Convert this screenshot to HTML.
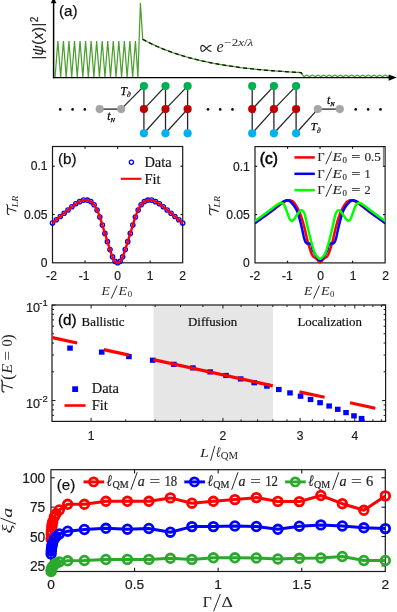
<!DOCTYPE html>
<html><head><meta charset="utf-8"><title>Figure</title>
<style>html,body{margin:0;padding:0;background:#fff;}body{width:397px;height:612px;overflow:hidden;font-family:"Liberation Sans",sans-serif;}svg text{white-space:pre;}</style>
</head><body>
<svg width="397" height="612" viewBox="0 0 397 612" style="display:block;will-change:transform">
<polyline points="55.10,77.00 57.87,41.00 60.64,77.00 63.41,41.00 66.18,77.00 68.95,41.00 71.72,77.00 74.49,41.00 77.26,77.00 80.03,41.00 82.80,77.00 85.57,41.00 88.34,77.00 91.11,41.00 93.88,77.00 96.65,41.00 99.42,77.00 102.19,41.00 104.96,77.00 107.73,41.00 110.50,77.00 113.27,41.00 116.04,77.00 118.81,41.00 121.58,77.00 124.35,41.00 127.12,77.00 129.89,41.00 132.66,77.00 135.43,41.00 137.90,77.00 140.40,3.00 142.70,39.30 144.70,40.38 146.70,41.43 148.70,42.45 150.70,43.44 152.70,44.40 154.70,45.33 156.70,46.24 158.70,47.12 160.70,47.97 162.70,48.80 164.70,49.60 166.70,50.38 168.70,51.13 170.70,51.87 172.70,52.58 174.70,53.27 176.70,53.94 178.70,54.59 180.70,55.22 182.70,55.83 184.70,56.43 186.70,57.01 188.70,57.57 190.70,58.11 192.70,58.64 194.70,59.15 196.70,59.65 198.70,60.13 200.70,60.60 202.70,61.05 204.70,61.49 206.70,61.92 208.70,62.34 210.70,62.74 212.70,63.13 214.70,63.51 216.70,63.88 218.70,64.24 220.70,64.58 222.70,64.92 224.70,65.25 226.70,65.56 228.70,65.87 230.70,66.17 232.70,66.46 234.70,66.74 236.70,67.01 238.70,67.28 240.70,67.54 242.70,67.79 244.70,68.03 246.70,68.26 248.70,68.49 250.70,68.71 252.70,68.93 254.70,69.14 256.70,69.34 258.70,69.54 260.70,69.73 262.70,69.91 264.70,70.09 266.70,70.27 268.70,70.43 270.70,70.60 272.70,70.76 274.70,70.91 276.70,71.06 278.70,71.21 280.70,71.35 282.70,71.49 284.70,71.62 286.70,71.75 288.70,71.87 290.70,72.00 292.70,72.11 294.70,72.23 296.70,72.34 298.70,72.45 300.70,72.55 301.00,72.57 304.00,76.60 304.70,76.27 305.40,75.66 306.10,75.24 306.80,75.10 307.50,75.24 308.20,75.66 308.90,76.27 309.60,77.00 310.30,76.27 311.00,75.66 311.70,75.24 312.40,75.10 313.10,75.24 313.80,75.66 314.50,76.27 315.20,77.00 315.90,76.27 316.60,75.66 317.30,75.24 318.00,75.10 318.70,75.24 319.40,75.66 320.10,76.27 320.80,77.00 321.50,76.27 322.20,75.66 322.90,75.24 323.60,75.10 324.30,75.24 325.00,75.66 325.70,76.27 326.40,77.00 327.10,76.27 327.80,75.66 328.50,75.24 329.20,75.10 329.90,75.24 330.60,75.66 331.30,76.27 332.00,77.00 332.70,76.27 333.40,75.66 334.10,75.24 334.80,75.10 335.50,75.24 336.20,75.66 336.90,76.27 337.60,77.00 338.30,76.27 339.00,75.66 339.70,75.24 340.40,75.10 341.10,75.24 341.80,75.66 342.50,76.27 343.20,77.00 343.90,76.27 344.60,75.66 345.30,75.24 346.00,75.10 346.70,75.24 347.40,75.66 348.10,76.27 348.80,77.00 349.50,76.27 350.20,75.66 350.90,75.24 351.60,75.10 352.30,75.24 353.00,75.66 353.70,76.27 354.40,77.00 355.10,76.27 355.80,75.66 356.50,75.24 357.20,75.10 357.90,75.24 358.60,75.66 359.30,76.27 360.00,77.00 360.70,76.27 361.40,75.66 362.10,75.24 362.80,75.10 363.50,75.24 364.20,75.66 364.90,76.27 365.60,77.00 366.30,76.27 367.00,75.66 367.70,75.24 368.40,75.10 369.10,75.24 369.80,75.66 370.50,76.27 371.20,77.00 371.90,76.27 372.60,75.66 373.30,75.24 374.00,75.10 374.70,75.24 375.40,75.66 376.10,76.27 376.80,77.00 377.50,76.27 378.20,75.66 378.90,75.24 379.60,75.10 380.30,75.24 381.00,75.66 381.70,76.27 382.40,77.00 383.10,76.27 383.80,75.66 384.50,75.24 385.20,75.10 385.90,75.24 386.60,75.66 387.30,76.27 388.00,77.00 388.70,76.27" fill="none" stroke="#4aa02c" stroke-width="1.25" stroke-linejoin="miter" stroke-linecap="butt"/>
<polyline points="142.70,39.30 144.70,40.38 146.70,41.43 148.70,42.45 150.70,43.44 152.70,44.40 154.70,45.33 156.70,46.24 158.70,47.12 160.70,47.97 162.70,48.80 164.70,49.60 166.70,50.38 168.70,51.13 170.70,51.87 172.70,52.58 174.70,53.27 176.70,53.94 178.70,54.59 180.70,55.22 182.70,55.83 184.70,56.43 186.70,57.01 188.70,57.57 190.70,58.11 192.70,58.64 194.70,59.15 196.70,59.65 198.70,60.13 200.70,60.60 202.70,61.05 204.70,61.49 206.70,61.92 208.70,62.34 210.70,62.74 212.70,63.13 214.70,63.51 216.70,63.88 218.70,64.24 220.70,64.58 222.70,64.92 224.70,65.25 226.70,65.56 228.70,65.87 230.70,66.17 232.70,66.46 234.70,66.74 236.70,67.01 238.70,67.28 240.70,67.54 242.70,67.79 244.70,68.03 246.70,68.26 248.70,68.49 250.70,68.71 252.70,68.93 254.70,69.14 256.70,69.34 258.70,69.54 260.70,69.73 262.70,69.91 264.70,70.09 266.70,70.27 268.70,70.43 270.70,70.60 272.70,70.76 274.70,70.91 276.70,71.06 278.70,71.21 280.70,71.35 282.70,71.49 284.70,71.62 286.70,71.75 288.70,71.87 290.70,72.00 292.70,72.11 294.70,72.23 296.70,72.34 298.70,72.45 300.70,72.55 301.00,72.57 303.50,75.60" fill="none" stroke="#111" stroke-width="1.3" stroke-linejoin="round" stroke-linecap="butt" stroke-dasharray="4 3"/>
<line x1="53.60" y1="78.30" x2="53.60" y2="3.00" stroke="#000" stroke-width="1.5" stroke-linecap="butt"/>
<polygon points="53.6,-3 50.8,3.3 56.4,3.3" fill="#000"/>
<line x1="52.90" y1="77.60" x2="390.00" y2="77.60" stroke="#000" stroke-width="1.45" stroke-linecap="butt"/>
<polygon points="396.8,77.6 388.6,74.5 388.6,80.7" fill="#000"/>
<text x="59.00" y="16.00" font-family="Liberation Sans" font-size="15.2" text-anchor="start" font-style="normal" font-weight="normal" fill="#111" stroke="#111" stroke-width="0.25">(a)</text>
<g transform="translate(42.7,59.6) rotate(-90)"><text x="0" y="0" font-family="Liberation Sans" font-size="14" fill="#1a1a1a" stroke="#1a1a1a" stroke-width="0.2" textLength="42.8" lengthAdjust="spacing">|<tspan font-style="italic">ψ</tspan>(<tspan font-style="italic">x</tspan>)|<tspan font-size="10" dy="-5">2</tspan></text></g>
<path transform="translate(200.00,51.70) scale(15.2)" d="M0.72,-0.42 C0.60,-0.42 0.52,-0.33 0.42,-0.22 C0.32,-0.10 0.26,-0.02 0.17,-0.02 C0.09,-0.02 0.05,-0.11 0.05,-0.22 C0.05,-0.33 0.09,-0.42 0.17,-0.42 C0.26,-0.42 0.32,-0.33 0.42,-0.22 C0.52,-0.10 0.60,-0.02 0.72,-0.02" fill="none" stroke="#262626" stroke-width="0.075" stroke-linecap="round" stroke-linejoin="round"/>
<text x="216.60" y="51.60" font-family="Liberation Serif" font-size="16" text-anchor="start" font-style="italic" font-weight="normal" fill="#262626">e</text>
<text x="224.3" y="46.4" font-family="Liberation Serif" font-size="10.6" fill="#262626" textLength="29" lengthAdjust="spacingAndGlyphs">−2<tspan font-style="italic">x</tspan>/<tspan font-style="italic">λ</tspan></text>
<line x1="143.90" y1="86.10" x2="143.90" y2="133.30" stroke="#262626" stroke-width="1.3" stroke-linecap="butt"/>
<line x1="143.90" y1="109.10" x2="165.50" y2="86.10" stroke="#262626" stroke-width="1.3" stroke-linecap="butt"/>
<line x1="143.90" y1="133.30" x2="165.50" y2="109.10" stroke="#262626" stroke-width="1.3" stroke-linecap="butt"/>
<line x1="165.50" y1="86.10" x2="165.50" y2="133.30" stroke="#262626" stroke-width="1.3" stroke-linecap="butt"/>
<line x1="165.50" y1="109.10" x2="187.60" y2="86.10" stroke="#262626" stroke-width="1.3" stroke-linecap="butt"/>
<line x1="165.50" y1="133.30" x2="187.60" y2="109.10" stroke="#262626" stroke-width="1.3" stroke-linecap="butt"/>
<line x1="187.60" y1="86.10" x2="187.60" y2="133.30" stroke="#262626" stroke-width="1.3" stroke-linecap="butt"/>
<line x1="99.70" y1="109.10" x2="121.20" y2="109.10" stroke="#262626" stroke-width="1.3" stroke-linecap="butt"/>
<line x1="121.20" y1="109.10" x2="143.90" y2="86.10" stroke="#262626" stroke-width="1.3" stroke-linecap="butt"/>
<circle cx="143.90" cy="86.10" r="4.1" fill="#00b050" stroke="none" stroke-width="1"/>
<circle cx="143.90" cy="109.10" r="4.1" fill="#c00000" stroke="none" stroke-width="1"/>
<circle cx="143.90" cy="133.30" r="4.1" fill="#00b0f0" stroke="none" stroke-width="1"/>
<circle cx="165.50" cy="86.10" r="4.1" fill="#00b050" stroke="none" stroke-width="1"/>
<circle cx="165.50" cy="109.10" r="4.1" fill="#c00000" stroke="none" stroke-width="1"/>
<circle cx="165.50" cy="133.30" r="4.1" fill="#00b0f0" stroke="none" stroke-width="1"/>
<circle cx="187.60" cy="86.10" r="4.1" fill="#00b050" stroke="none" stroke-width="1"/>
<circle cx="187.60" cy="109.10" r="4.1" fill="#c00000" stroke="none" stroke-width="1"/>
<circle cx="187.60" cy="133.30" r="4.1" fill="#00b0f0" stroke="none" stroke-width="1"/>
<circle cx="99.70" cy="109.10" r="4.1" fill="#a6a6a6" stroke="none" stroke-width="1"/>
<circle cx="121.20" cy="109.10" r="4.1" fill="#a6a6a6" stroke="none" stroke-width="1"/>
<line x1="252.20" y1="86.10" x2="252.20" y2="133.30" stroke="#262626" stroke-width="1.3" stroke-linecap="butt"/>
<line x1="252.20" y1="109.10" x2="273.90" y2="86.10" stroke="#262626" stroke-width="1.3" stroke-linecap="butt"/>
<line x1="252.20" y1="133.30" x2="273.90" y2="109.10" stroke="#262626" stroke-width="1.3" stroke-linecap="butt"/>
<line x1="273.90" y1="86.10" x2="273.90" y2="133.30" stroke="#262626" stroke-width="1.3" stroke-linecap="butt"/>
<line x1="273.90" y1="109.10" x2="296.10" y2="86.10" stroke="#262626" stroke-width="1.3" stroke-linecap="butt"/>
<line x1="273.90" y1="133.30" x2="296.10" y2="109.10" stroke="#262626" stroke-width="1.3" stroke-linecap="butt"/>
<line x1="296.10" y1="86.10" x2="296.10" y2="133.30" stroke="#262626" stroke-width="1.3" stroke-linecap="butt"/>
<line x1="317.80" y1="109.10" x2="339.80" y2="109.10" stroke="#262626" stroke-width="1.3" stroke-linecap="butt"/>
<line x1="317.80" y1="109.10" x2="296.10" y2="133.30" stroke="#262626" stroke-width="1.3" stroke-linecap="butt"/>
<circle cx="252.20" cy="86.10" r="4.1" fill="#00b050" stroke="none" stroke-width="1"/>
<circle cx="252.20" cy="109.10" r="4.1" fill="#c00000" stroke="none" stroke-width="1"/>
<circle cx="252.20" cy="133.30" r="4.1" fill="#00b0f0" stroke="none" stroke-width="1"/>
<circle cx="273.90" cy="86.10" r="4.1" fill="#00b050" stroke="none" stroke-width="1"/>
<circle cx="273.90" cy="109.10" r="4.1" fill="#c00000" stroke="none" stroke-width="1"/>
<circle cx="273.90" cy="133.30" r="4.1" fill="#00b0f0" stroke="none" stroke-width="1"/>
<circle cx="296.10" cy="86.10" r="4.1" fill="#00b050" stroke="none" stroke-width="1"/>
<circle cx="296.10" cy="109.10" r="4.1" fill="#c00000" stroke="none" stroke-width="1"/>
<circle cx="296.10" cy="133.30" r="4.1" fill="#00b0f0" stroke="none" stroke-width="1"/>
<circle cx="317.80" cy="109.10" r="4.1" fill="#a6a6a6" stroke="none" stroke-width="1"/>
<circle cx="339.80" cy="109.10" r="4.1" fill="#a6a6a6" stroke="none" stroke-width="1"/>
<circle cx="60.20" cy="109.40" r="1.35" fill="#111" stroke="none" stroke-width="1"/>
<circle cx="72.60" cy="109.40" r="1.35" fill="#111" stroke="none" stroke-width="1"/>
<circle cx="84.80" cy="109.40" r="1.35" fill="#111" stroke="none" stroke-width="1"/>
<circle cx="208.00" cy="109.40" r="1.35" fill="#111" stroke="none" stroke-width="1"/>
<circle cx="220.20" cy="109.40" r="1.35" fill="#111" stroke="none" stroke-width="1"/>
<circle cx="232.50" cy="109.40" r="1.35" fill="#111" stroke="none" stroke-width="1"/>
<circle cx="355.70" cy="109.40" r="1.35" fill="#111" stroke="none" stroke-width="1"/>
<circle cx="368.10" cy="109.40" r="1.35" fill="#111" stroke="none" stroke-width="1"/>
<circle cx="380.50" cy="109.40" r="1.35" fill="#111" stroke="none" stroke-width="1"/>
<text x="120.60" y="94.50" font-family="Liberation Serif" font-size="11.5" font-style="italic" fill="#000" stroke="#000" stroke-width="0.25">T<tspan font-size="7.5" dy="2.2">∂</tspan></text>
<text x="107.20" y="119.50" font-family="Liberation Serif" font-size="11.5" font-style="italic" fill="#000" stroke="#000" stroke-width="0.25">t<tspan font-size="6.5" dy="2.2">N</tspan></text>
<text x="310.80" y="130.30" font-family="Liberation Serif" font-size="11.2" font-style="italic" fill="#000" stroke="#000" stroke-width="0.25">T<tspan font-size="7.5" dy="2.2">∂</tspan></text>
<text x="327.00" y="104.00" font-family="Liberation Serif" font-size="11.5" font-style="italic" fill="#000" stroke="#000" stroke-width="0.25">t<tspan font-size="6.5" dy="2.2">N</tspan></text>
<rect x="52.50" y="146.50" width="130.20" height="116.30" fill="none" stroke="#1a1a1a" stroke-width="1.2"/>
<line x1="85.05" y1="262.80" x2="85.05" y2="260.60" stroke="#1a1a1a" stroke-width="1.2" stroke-linecap="butt"/>
<line x1="85.05" y1="146.50" x2="85.05" y2="148.70" stroke="#1a1a1a" stroke-width="1.2" stroke-linecap="butt"/>
<line x1="117.60" y1="262.80" x2="117.60" y2="260.60" stroke="#1a1a1a" stroke-width="1.2" stroke-linecap="butt"/>
<line x1="117.60" y1="146.50" x2="117.60" y2="148.70" stroke="#1a1a1a" stroke-width="1.2" stroke-linecap="butt"/>
<line x1="150.15" y1="262.80" x2="150.15" y2="260.60" stroke="#1a1a1a" stroke-width="1.2" stroke-linecap="butt"/>
<line x1="150.15" y1="146.50" x2="150.15" y2="148.70" stroke="#1a1a1a" stroke-width="1.2" stroke-linecap="butt"/>
<line x1="52.50" y1="214.50" x2="54.70" y2="214.50" stroke="#1a1a1a" stroke-width="1.2" stroke-linecap="butt"/>
<line x1="182.70" y1="214.50" x2="180.50" y2="214.50" stroke="#1a1a1a" stroke-width="1.2" stroke-linecap="butt"/>
<line x1="52.50" y1="166.20" x2="54.70" y2="166.20" stroke="#1a1a1a" stroke-width="1.2" stroke-linecap="butt"/>
<line x1="182.70" y1="166.20" x2="180.50" y2="166.20" stroke="#1a1a1a" stroke-width="1.2" stroke-linecap="butt"/>
<circle cx="52.50" cy="223.00" r="2.15" fill="none" stroke="#0000ff" stroke-width="1.35"/>
<circle cx="56.41" cy="219.71" r="2.15" fill="none" stroke="#0000ff" stroke-width="1.35"/>
<circle cx="60.28" cy="216.46" r="2.15" fill="none" stroke="#0000ff" stroke-width="1.35"/>
<circle cx="64.15" cy="213.20" r="2.15" fill="none" stroke="#0000ff" stroke-width="1.35"/>
<circle cx="68.03" cy="209.97" r="2.15" fill="none" stroke="#0000ff" stroke-width="1.35"/>
<circle cx="71.90" cy="206.77" r="2.15" fill="none" stroke="#0000ff" stroke-width="1.35"/>
<circle cx="75.77" cy="203.79" r="2.15" fill="none" stroke="#0000ff" stroke-width="1.35"/>
<circle cx="79.65" cy="201.65" r="2.15" fill="none" stroke="#0000ff" stroke-width="1.35"/>
<circle cx="83.52" cy="200.09" r="2.15" fill="none" stroke="#0000ff" stroke-width="1.35"/>
<circle cx="87.30" cy="200.12" r="2.15" fill="none" stroke="#0000ff" stroke-width="1.35"/>
<circle cx="90.81" cy="201.62" r="2.15" fill="none" stroke="#0000ff" stroke-width="1.35"/>
<circle cx="94.07" cy="204.73" r="2.15" fill="none" stroke="#0000ff" stroke-width="1.35"/>
<circle cx="97.06" cy="210.09" r="2.15" fill="none" stroke="#0000ff" stroke-width="1.35"/>
<circle cx="99.83" cy="216.95" r="2.15" fill="none" stroke="#0000ff" stroke-width="1.35"/>
<circle cx="102.37" cy="225.07" r="2.15" fill="none" stroke="#0000ff" stroke-width="1.35"/>
<circle cx="104.91" cy="233.41" r="2.15" fill="none" stroke="#0000ff" stroke-width="1.35"/>
<circle cx="107.44" cy="241.63" r="2.15" fill="none" stroke="#0000ff" stroke-width="1.35"/>
<circle cx="109.98" cy="249.55" r="2.15" fill="none" stroke="#0000ff" stroke-width="1.35"/>
<circle cx="112.52" cy="256.87" r="2.15" fill="none" stroke="#0000ff" stroke-width="1.35"/>
<circle cx="115.06" cy="261.34" r="2.15" fill="none" stroke="#0000ff" stroke-width="1.35"/>
<circle cx="117.60" cy="262.80" r="2.15" fill="none" stroke="#0000ff" stroke-width="1.35"/>
<circle cx="120.14" cy="261.34" r="2.15" fill="none" stroke="#0000ff" stroke-width="1.35"/>
<circle cx="122.68" cy="256.87" r="2.15" fill="none" stroke="#0000ff" stroke-width="1.35"/>
<circle cx="125.22" cy="249.55" r="2.15" fill="none" stroke="#0000ff" stroke-width="1.35"/>
<circle cx="127.76" cy="241.63" r="2.15" fill="none" stroke="#0000ff" stroke-width="1.35"/>
<circle cx="130.29" cy="233.41" r="2.15" fill="none" stroke="#0000ff" stroke-width="1.35"/>
<circle cx="132.83" cy="225.07" r="2.15" fill="none" stroke="#0000ff" stroke-width="1.35"/>
<circle cx="135.37" cy="216.95" r="2.15" fill="none" stroke="#0000ff" stroke-width="1.35"/>
<circle cx="138.14" cy="210.09" r="2.15" fill="none" stroke="#0000ff" stroke-width="1.35"/>
<circle cx="141.13" cy="204.73" r="2.15" fill="none" stroke="#0000ff" stroke-width="1.35"/>
<circle cx="144.39" cy="201.62" r="2.15" fill="none" stroke="#0000ff" stroke-width="1.35"/>
<circle cx="147.90" cy="200.12" r="2.15" fill="none" stroke="#0000ff" stroke-width="1.35"/>
<circle cx="151.68" cy="200.09" r="2.15" fill="none" stroke="#0000ff" stroke-width="1.35"/>
<circle cx="155.55" cy="201.65" r="2.15" fill="none" stroke="#0000ff" stroke-width="1.35"/>
<circle cx="159.43" cy="203.79" r="2.15" fill="none" stroke="#0000ff" stroke-width="1.35"/>
<circle cx="163.30" cy="206.77" r="2.15" fill="none" stroke="#0000ff" stroke-width="1.35"/>
<circle cx="167.17" cy="209.97" r="2.15" fill="none" stroke="#0000ff" stroke-width="1.35"/>
<circle cx="171.05" cy="213.20" r="2.15" fill="none" stroke="#0000ff" stroke-width="1.35"/>
<circle cx="174.92" cy="216.46" r="2.15" fill="none" stroke="#0000ff" stroke-width="1.35"/>
<circle cx="178.79" cy="219.71" r="2.15" fill="none" stroke="#0000ff" stroke-width="1.35"/>
<circle cx="182.70" cy="223.00" r="2.15" fill="none" stroke="#0000ff" stroke-width="1.35"/>
<polyline points="52.50,223.00 53.10,222.50 53.88,221.84 54.81,221.05 55.86,220.18 56.97,219.24 58.11,218.28 59.24,217.33 60.31,216.43 61.38,215.54 62.49,214.61 63.62,213.65 64.77,212.69 65.90,211.74 67.02,210.81 68.09,209.92 69.10,209.09 70.05,208.31 70.96,207.55 71.84,206.82 72.68,206.12 73.51,205.45 74.32,204.82 75.13,204.23 75.94,203.68 76.76,203.17 77.59,202.69 78.42,202.25 79.24,201.84 80.03,201.47 80.78,201.14 81.48,200.84 82.12,200.59 82.67,200.38 83.15,200.21 83.56,200.08 83.94,199.99 84.31,199.93 84.68,199.90 85.08,199.89 85.54,199.91 86.04,199.95 86.57,200.01 87.11,200.09 87.67,200.20 88.24,200.34 88.81,200.54 89.37,200.78 89.93,201.07 90.48,201.41 91.04,201.77 91.59,202.17 92.15,202.62 92.70,203.13 93.26,203.71 93.81,204.38 94.36,205.13 94.91,205.99 95.48,206.95 96.04,208.00 96.60,209.12 97.15,210.29 97.70,211.49 98.22,212.71 98.72,213.92 99.20,215.15 99.65,216.41 100.08,217.71 100.50,219.03 100.92,220.37 101.33,221.72 101.75,223.08 102.17,224.45 102.60,225.82 103.03,227.22 103.46,228.63 103.89,230.05 104.32,231.47 104.75,232.90 105.18,234.33 105.62,235.75 106.06,237.18 106.51,238.63 106.96,240.08 107.41,241.53 107.86,242.97 108.31,244.39 108.76,245.79 109.20,247.15 109.64,248.51 110.09,249.89 110.54,251.26 110.98,252.61 111.42,253.90 111.85,255.11 112.26,256.22 112.65,257.20 113.03,258.04 113.38,258.78 113.73,259.42 114.06,259.97 114.38,260.46 114.70,260.89 115.01,261.28 115.32,261.64 115.63,261.96 115.92,262.22 116.20,262.42 116.49,262.57 116.76,262.68 117.04,262.75 117.32,262.79 117.60,262.80 117.88,262.79 118.16,262.75 118.44,262.68 118.71,262.57 119.00,262.42 119.28,262.22 119.57,261.96 119.88,261.64 120.19,261.28 120.50,260.89 120.82,260.46 121.14,259.97 121.47,259.42 121.82,258.78 122.17,258.04 122.55,257.20 122.94,256.22 123.35,255.11 123.78,253.90 124.22,252.61 124.66,251.26 125.11,249.89 125.56,248.51 126.00,247.15 126.44,245.79 126.89,244.39 127.34,242.97 127.79,241.53 128.24,240.08 128.69,238.63 129.14,237.18 129.58,235.75 130.02,234.33 130.45,232.90 130.88,231.47 131.31,230.05 131.74,228.63 132.17,227.22 132.60,225.82 133.03,224.45 133.45,223.08 133.87,221.72 134.28,220.37 134.70,219.03 135.12,217.71 135.55,216.41 136.00,215.15 136.48,213.92 136.98,212.71 137.50,211.49 138.05,210.29 138.60,209.12 139.16,208.00 139.72,206.95 140.29,205.99 140.84,205.13 141.39,204.38 141.94,203.71 142.50,203.13 143.05,202.62 143.61,202.17 144.16,201.77 144.72,201.41 145.27,201.07 145.83,200.78 146.39,200.54 146.96,200.34 147.53,200.20 148.09,200.09 148.63,200.01 149.16,199.95 149.66,199.91 150.12,199.89 150.52,199.90 150.89,199.93 151.26,199.99 151.64,200.08 152.05,200.21 152.53,200.38 153.08,200.59 153.72,200.84 154.42,201.14 155.17,201.47 155.96,201.84 156.78,202.25 157.61,202.69 158.44,203.17 159.26,203.68 160.07,204.23 160.88,204.82 161.69,205.45 162.52,206.12 163.36,206.82 164.24,207.55 165.15,208.31 166.10,209.09 167.11,209.92 168.18,210.81 169.30,211.74 170.43,212.69 171.58,213.65 172.71,214.61 173.82,215.54 174.89,216.43 175.96,217.33 177.09,218.28 178.23,219.24 179.34,220.18 180.39,221.05 181.32,221.84 182.10,222.50 182.70,223.00" fill="none" stroke="#ff0000" stroke-width="2.4" stroke-linejoin="round" stroke-linecap="butt"/>
<text x="51.50" y="280.30" font-family="Liberation Sans" font-size="12.1" text-anchor="middle" font-style="normal" font-weight="normal" fill="#1a1a1a" stroke="#1a1a1a" stroke-width="0.2">-2</text>
<text x="84.05" y="280.30" font-family="Liberation Sans" font-size="12.1" text-anchor="middle" font-style="normal" font-weight="normal" fill="#1a1a1a" stroke="#1a1a1a" stroke-width="0.2">-1</text>
<text x="117.60" y="280.30" font-family="Liberation Sans" font-size="12.1" text-anchor="middle" font-style="normal" font-weight="normal" fill="#1a1a1a" stroke="#1a1a1a" stroke-width="0.2">0</text>
<text x="150.15" y="280.30" font-family="Liberation Sans" font-size="12.1" text-anchor="middle" font-style="normal" font-weight="normal" fill="#1a1a1a" stroke="#1a1a1a" stroke-width="0.2">1</text>
<text x="182.70" y="280.30" font-family="Liberation Sans" font-size="12.1" text-anchor="middle" font-style="normal" font-weight="normal" fill="#1a1a1a" stroke="#1a1a1a" stroke-width="0.2">2</text>
<text x="47.50" y="267.00" font-family="Liberation Sans" font-size="12.1" text-anchor="end" font-style="normal" font-weight="normal" fill="#1a1a1a" stroke="#1a1a1a" stroke-width="0.2">0</text>
<text x="47.50" y="218.70" font-family="Liberation Sans" font-size="12.1" text-anchor="end" font-style="normal" font-weight="normal" fill="#1a1a1a" stroke="#1a1a1a" stroke-width="0.2">0.05</text>
<text x="47.50" y="170.40" font-family="Liberation Sans" font-size="12.1" text-anchor="end" font-style="normal" font-weight="normal" fill="#1a1a1a" stroke="#1a1a1a" stroke-width="0.2">0.1</text>
<text x="58.00" y="164.00" font-family="Liberation Sans" font-size="15.2" text-anchor="start" font-style="normal" font-weight="normal" fill="#111" stroke="#111" stroke-width="0.25">(b)</text>
<circle cx="131.40" cy="162.30" r="2.1" fill="none" stroke="#0000ff" stroke-width="1.25"/>
<text x="144.40" y="167.20" font-family="Liberation Serif" font-size="14.5" text-anchor="start" font-style="normal" font-weight="normal" fill="#111" stroke="#111" stroke-width="0.15">Data</text>
<line x1="120.80" y1="178.80" x2="141.40" y2="178.80" stroke="#ff0000" stroke-width="2.1" stroke-linecap="butt"/>
<text x="144.40" y="183.80" font-family="Liberation Serif" font-size="14.5" text-anchor="start" font-style="normal" font-weight="normal" fill="#111" stroke="#111" stroke-width="0.15">Fit</text>
<text x="101.60" y="295.30" font-family="Liberation Serif" font-size="12.4" text-anchor="start" font-style="italic" font-weight="normal" fill="#262626" textLength="8.30" lengthAdjust="spacingAndGlyphs">E</text>
<text x="118.60" y="295.30" font-family="Liberation Serif" font-size="12.4" text-anchor="start" font-style="italic" font-weight="normal" fill="#262626" textLength="8.60" lengthAdjust="spacingAndGlyphs">E</text>
<text x="127.70" y="297.30" font-family="Liberation Serif" font-size="8.8" text-anchor="start" font-style="normal" font-weight="normal" fill="#262626">0</text>
<line x1="111.40" y1="298.30" x2="117.00" y2="285.80" stroke="#262626" stroke-width="0.95" stroke-linecap="round"/>
<path transform="translate(16.20,214.90) rotate(-90) scale(12.9)" d="M0.02,-0.56 C0.03,-0.66 0.12,-0.70 0.26,-0.685 L0.62,-0.665 C0.70,-0.66 0.77,-0.68 0.82,-0.73 M0.50,-0.675 C0.45,-0.50 0.38,-0.22 0.29,-0.01" fill="none" stroke="#262626" stroke-width="0.085" stroke-linecap="round" stroke-linejoin="round"/>
<g transform="translate(17.80,207.20) rotate(-90)"><text x="0" y="0" font-family="Liberation Serif" font-size="8.8" font-style="italic" fill="#262626" textLength="11.6" lengthAdjust="spacingAndGlyphs">LR</text></g>
<rect x="255.00" y="146.60" width="130.10" height="116.30" fill="none" stroke="#1a1a1a" stroke-width="1.2"/>
<line x1="287.53" y1="262.90" x2="287.53" y2="260.70" stroke="#1a1a1a" stroke-width="1.2" stroke-linecap="butt"/>
<line x1="287.53" y1="146.60" x2="287.53" y2="148.80" stroke="#1a1a1a" stroke-width="1.2" stroke-linecap="butt"/>
<line x1="320.05" y1="262.90" x2="320.05" y2="260.70" stroke="#1a1a1a" stroke-width="1.2" stroke-linecap="butt"/>
<line x1="320.05" y1="146.60" x2="320.05" y2="148.80" stroke="#1a1a1a" stroke-width="1.2" stroke-linecap="butt"/>
<line x1="352.57" y1="262.90" x2="352.57" y2="260.70" stroke="#1a1a1a" stroke-width="1.2" stroke-linecap="butt"/>
<line x1="352.57" y1="146.60" x2="352.57" y2="148.80" stroke="#1a1a1a" stroke-width="1.2" stroke-linecap="butt"/>
<line x1="255.00" y1="214.60" x2="257.20" y2="214.60" stroke="#1a1a1a" stroke-width="1.2" stroke-linecap="butt"/>
<line x1="385.10" y1="214.60" x2="382.90" y2="214.60" stroke="#1a1a1a" stroke-width="1.2" stroke-linecap="butt"/>
<line x1="255.00" y1="166.30" x2="257.20" y2="166.30" stroke="#1a1a1a" stroke-width="1.2" stroke-linecap="butt"/>
<line x1="385.10" y1="166.30" x2="382.90" y2="166.30" stroke="#1a1a1a" stroke-width="1.2" stroke-linecap="butt"/>
<clipPath id="cc"><rect x="255.0" y="146.6" width="130.10000000000002" height="117.29999999999998"/></clipPath>
<g clip-path="url(#cc)">
<polyline points="254.60,223.20 255.40,222.64 256.49,221.87 257.79,220.96 259.20,219.97 260.63,218.96 262.00,218.00 263.32,217.07 264.69,216.11 266.07,215.14 267.47,214.16 268.85,213.18 270.20,212.20 271.55,211.20 272.91,210.17 274.27,209.14 275.59,208.13 276.84,207.17 278.00,206.30 279.06,205.50 280.02,204.76 280.93,204.06 281.79,203.42 282.64,202.83 283.50,202.30 284.39,201.81 285.28,201.36 286.16,200.96 287.00,200.62 287.79,200.37 288.50,200.20 289.12,200.14 289.65,200.17 290.13,200.28 290.58,200.45 291.03,200.66 291.50,200.90 291.96,201.10 292.39,201.27 292.81,201.47 293.27,201.80 293.78,202.32 294.40,203.10 295.15,204.19 296.01,205.52 296.94,207.05 297.88,208.71 298.78,210.45 299.60,212.20 300.35,214.05 301.06,216.05 301.74,218.13 302.38,220.20 302.97,222.19 303.50,224.00 303.96,225.62 304.34,227.10 304.67,228.50 304.97,229.85 305.28,231.20 305.60,232.60 305.94,234.06 306.28,235.54 306.61,237.03 306.94,238.49 307.27,239.89 307.60,241.20 307.92,242.42 308.24,243.56 308.56,244.64 308.87,245.68 309.18,246.69 309.50,247.70 309.82,248.71 310.13,249.72 310.45,250.70 310.77,251.64 311.08,252.51 311.40,253.30 311.71,254.00 312.01,254.63 312.31,255.20 312.62,255.71 312.95,256.18 313.30,256.60 313.69,256.96 314.11,257.25 314.55,257.49 314.99,257.71 315.41,257.94 315.80,258.20 316.16,258.49 316.50,258.79 316.82,259.09 317.13,259.40 317.42,259.70 317.70,260.00 317.97,260.30 318.22,260.61 318.46,260.92 318.68,261.21 318.90,261.48 319.10,261.70 319.29,261.89 319.46,262.06 319.62,262.20 319.78,262.31 319.94,262.38 320.10,262.40 320.26,262.38 320.42,262.31 320.57,262.20 320.74,262.06 320.91,261.89 321.10,261.70 321.30,261.48 321.52,261.21 321.74,260.92 321.98,260.61 322.23,260.30 322.50,260.00 322.78,259.70 323.07,259.40 323.38,259.09 323.70,258.79 324.04,258.49 324.40,258.20 324.79,257.94 325.21,257.71 325.65,257.49 326.09,257.25 326.51,256.96 326.90,256.60 327.25,256.18 327.58,255.71 327.89,255.20 328.19,254.63 328.49,254.00 328.80,253.30 329.12,252.51 329.43,251.64 329.75,250.70 330.07,249.72 330.38,248.71 330.70,247.70 331.02,246.69 331.33,245.68 331.64,244.64 331.96,243.56 332.28,242.42 332.60,241.20 332.93,239.89 333.26,238.49 333.59,237.03 333.92,235.54 334.26,234.06 334.60,232.60 334.92,231.20 335.23,229.85 335.53,228.50 335.86,227.10 336.24,225.62 336.70,224.00 337.23,222.19 337.82,220.20 338.46,218.13 339.14,216.05 339.85,214.05 340.60,212.20 341.42,210.45 342.32,208.71 343.26,207.05 344.19,205.52 345.05,204.19 345.80,203.10 346.42,202.32 346.93,201.80 347.39,201.47 347.81,201.27 348.24,201.10 348.70,200.90 349.17,200.66 349.62,200.45 350.07,200.28 350.55,200.17 351.08,200.14 351.70,200.20 352.41,200.37 353.20,200.62 354.04,200.96 354.92,201.36 355.81,201.81 356.70,202.30 357.56,202.83 358.41,203.42 359.28,204.06 360.18,204.76 361.14,205.50 362.20,206.30 363.36,207.17 364.61,208.13 365.93,209.14 367.29,210.17 368.65,211.20 370.00,212.20 371.35,213.18 372.73,214.16 374.13,215.14 375.51,216.11 376.88,217.07 378.20,218.00 379.57,218.96 381.00,219.97 382.41,220.96 383.71,221.87 384.80,222.64 385.60,223.20" fill="none" stroke="#ff0000" stroke-width="2.5" stroke-linejoin="round" stroke-linecap="butt"/>
<polyline points="254.60,223.20 255.40,222.64 256.49,221.88 257.79,220.97 259.20,219.99 260.63,218.97 262.00,218.00 263.34,217.04 264.73,216.04 266.14,215.02 267.54,213.99 268.91,212.98 270.20,212.00 271.44,211.04 272.64,210.08 273.80,209.13 274.92,208.21 275.99,207.33 277.00,206.50 277.95,205.71 278.84,204.95 279.68,204.23 280.47,203.56 281.25,202.95 282.00,202.40 282.74,201.92 283.44,201.49 284.12,201.11 284.78,200.80 285.40,200.56 286.00,200.40 286.56,200.32 287.08,200.32 287.57,200.39 288.05,200.51 288.52,200.69 289.00,200.90 289.45,201.10 289.86,201.30 290.26,201.54 290.70,201.89 291.20,202.39 291.80,203.10 292.54,204.01 293.40,205.09 294.33,206.32 295.27,207.70 296.18,209.23 297.00,210.90 297.73,212.76 298.42,214.83 299.07,217.04 299.69,219.34 300.30,221.68 300.90,224.00 301.50,226.44 302.10,229.08 302.68,231.76 303.23,234.31 303.74,236.58 304.20,238.40 304.59,239.73 304.92,240.68 305.21,241.34 305.47,241.82 305.73,242.21 306.00,242.60 306.26,242.95 306.49,243.17 306.72,243.30 306.96,243.37 307.25,243.43 307.60,243.50 308.05,243.54 308.59,243.52 309.17,243.48 309.74,243.47 310.27,243.52 310.70,243.70 311.03,244.01 311.29,244.43 311.51,244.92 311.69,245.45 311.84,245.99 312.00,246.50 312.12,246.98 312.18,247.44 312.22,247.91 312.28,248.41 312.39,248.97 312.60,249.60 312.92,250.34 313.32,251.17 313.78,252.06 314.27,252.95 314.75,253.81 315.20,254.60 315.63,255.32 316.08,256.03 316.52,256.69 316.94,257.32 317.34,257.89 317.70,258.40 318.01,258.84 318.30,259.22 318.55,259.55 318.78,259.83 319.00,260.08 319.20,260.30 319.38,260.49 319.54,260.64 319.69,260.76 319.82,260.84 319.96,260.88 320.10,260.90 320.24,260.88 320.38,260.84 320.51,260.76 320.66,260.64 320.82,260.49 321.00,260.30 321.20,260.08 321.42,259.83 321.65,259.55 321.90,259.22 322.19,258.84 322.50,258.40 322.86,257.89 323.26,257.32 323.68,256.69 324.12,256.03 324.57,255.32 325.00,254.60 325.45,253.81 325.93,252.95 326.42,252.06 326.88,251.17 327.28,250.34 327.60,249.60 327.81,248.97 327.92,248.41 327.98,247.91 328.02,247.44 328.08,246.98 328.20,246.50 328.36,245.99 328.51,245.45 328.69,244.92 328.91,244.43 329.17,244.01 329.50,243.70 329.93,243.52 330.46,243.47 331.03,243.48 331.61,243.52 332.15,243.54 332.60,243.50 332.95,243.43 333.24,243.37 333.48,243.30 333.71,243.17 333.94,242.95 334.20,242.60 334.47,242.21 334.73,241.82 334.99,241.34 335.28,240.68 335.61,239.73 336.00,238.40 336.46,236.58 336.97,234.31 337.52,231.76 338.10,229.08 338.70,226.44 339.30,224.00 339.90,221.68 340.51,219.34 341.13,217.04 341.78,214.83 342.47,212.76 343.20,210.90 344.02,209.23 344.93,207.70 345.87,206.32 346.80,205.09 347.66,204.01 348.40,203.10 349.00,202.39 349.50,201.89 349.94,201.54 350.34,201.30 350.75,201.10 351.20,200.90 351.68,200.69 352.15,200.51 352.63,200.39 353.12,200.32 353.64,200.32 354.20,200.40 354.80,200.56 355.42,200.80 356.08,201.11 356.76,201.49 357.46,201.92 358.20,202.40 358.95,202.95 359.73,203.56 360.53,204.23 361.36,204.95 362.25,205.71 363.20,206.50 364.21,207.33 365.28,208.21 366.40,209.13 367.56,210.08 368.76,211.04 370.00,212.00 371.29,212.98 372.66,213.99 374.06,215.02 375.47,216.04 376.86,217.04 378.20,218.00 379.57,218.97 381.00,219.99 382.41,220.97 383.71,221.88 384.80,222.64 385.60,223.20" fill="none" stroke="#0000ff" stroke-width="2.5" stroke-linejoin="round" stroke-linecap="butt"/>
<polyline points="254.60,221.30 255.40,220.73 256.49,219.95 257.79,219.03 259.20,218.01 260.63,216.99 262.00,216.00 263.36,215.01 264.80,213.97 266.26,212.90 267.69,211.86 269.02,210.87 270.20,210.00 271.19,209.24 272.04,208.58 272.80,207.97 273.51,207.41 274.23,206.86 275.00,206.30 275.84,205.69 276.73,205.06 277.61,204.44 278.47,203.87 279.28,203.41 280.00,203.10 280.63,202.94 281.18,202.89 281.68,202.94 282.13,203.08 282.57,203.31 283.00,203.60 283.40,203.93 283.75,204.30 284.08,204.76 284.41,205.33 284.78,206.06 285.20,207.00 285.70,208.26 286.28,209.84 286.88,211.59 287.48,213.33 288.03,214.92 288.50,216.20 288.88,217.16 289.19,217.91 289.46,218.52 289.70,219.01 289.94,219.42 290.20,219.80 290.47,220.13 290.73,220.37 290.99,220.54 291.26,220.65 291.52,220.70 291.80,220.70 292.07,220.67 292.33,220.61 292.59,220.50 292.87,220.31 293.21,220.01 293.60,219.60 294.08,219.01 294.64,218.26 295.24,217.41 295.85,216.53 296.45,215.67 297.00,214.90 297.51,214.19 298.01,213.49 298.50,212.81 298.96,212.19 299.40,211.64 299.80,211.20 300.16,210.86 300.48,210.62 300.78,210.45 301.05,210.35 301.32,210.30 301.60,210.30 301.88,210.34 302.14,210.43 302.41,210.58 302.67,210.78 302.93,211.05 303.20,211.40 303.46,211.72 303.70,211.99 303.95,212.33 304.22,212.84 304.53,213.66 304.90,214.90 305.35,216.67 305.85,218.91 306.40,221.45 306.97,224.12 307.54,226.76 308.10,229.20 308.64,231.48 309.19,233.75 309.74,235.99 310.30,238.17 310.85,240.28 311.40,242.30 311.95,244.27 312.50,246.21 313.06,248.08 313.61,249.83 314.16,251.42 314.70,252.80 315.25,253.95 315.81,254.89 316.37,255.68 316.91,256.33 317.43,256.89 317.90,257.40 318.32,257.84 318.71,258.17 319.06,258.42 319.40,258.58 319.74,258.67 320.10,258.70 320.46,258.67 320.80,258.58 321.14,258.42 321.49,258.17 321.88,257.84 322.30,257.40 322.77,256.89 323.29,256.33 323.83,255.67 324.39,254.89 324.95,253.95 325.50,252.80 326.04,251.42 326.59,249.83 327.14,248.08 327.70,246.21 328.25,244.27 328.80,242.30 329.35,240.28 329.90,238.17 330.46,235.99 331.01,233.75 331.56,231.48 332.10,229.20 332.66,226.76 333.23,224.12 333.80,221.45 334.35,218.91 334.85,216.67 335.30,214.90 335.67,213.66 335.98,212.84 336.25,212.33 336.50,211.99 336.74,211.72 337.00,211.40 337.27,211.05 337.53,210.78 337.79,210.57 338.06,210.43 338.32,210.34 338.60,210.30 338.88,210.30 339.15,210.35 339.43,210.45 339.72,210.62 340.04,210.86 340.40,211.20 340.80,211.64 341.24,212.19 341.70,212.81 342.19,213.49 342.69,214.19 343.20,214.90 343.75,215.67 344.35,216.53 344.96,217.41 345.56,218.26 346.12,219.01 346.60,219.60 346.99,220.01 347.33,220.31 347.61,220.50 347.87,220.61 348.13,220.67 348.40,220.70 348.68,220.70 348.94,220.65 349.21,220.54 349.47,220.37 349.73,220.13 350.00,219.80 350.26,219.42 350.50,219.01 350.74,218.52 351.01,217.91 351.32,217.16 351.70,216.20 352.17,214.92 352.72,213.33 353.32,211.59 353.92,209.84 354.50,208.26 355.00,207.00 355.42,206.06 355.79,205.33 356.12,204.76 356.45,204.30 356.80,203.93 357.20,203.60 357.63,203.31 358.07,203.08 358.53,202.94 359.02,202.89 359.58,202.94 360.20,203.10 360.92,203.41 361.73,203.87 362.59,204.44 363.47,205.06 364.36,205.69 365.20,206.30 365.97,206.86 366.69,207.41 367.40,207.98 368.16,208.58 369.01,209.24 370.00,210.00 371.18,210.88 372.51,211.86 373.94,212.90 375.40,213.97 376.84,215.01 378.20,216.00 379.57,216.99 381.00,218.01 382.41,219.03 383.71,219.95 384.80,220.73 385.60,221.30" fill="none" stroke="#00ff00" stroke-width="2.5" stroke-linejoin="round" stroke-linecap="butt"/>
</g>
<text x="254.81" y="280.30" font-family="Liberation Sans" font-size="12.1" text-anchor="middle" font-style="normal" font-weight="normal" fill="#1a1a1a" stroke="#1a1a1a" stroke-width="0.2">-2</text>
<text x="287.33" y="280.30" font-family="Liberation Sans" font-size="12.1" text-anchor="middle" font-style="normal" font-weight="normal" fill="#1a1a1a" stroke="#1a1a1a" stroke-width="0.2">-1</text>
<text x="320.55" y="280.30" font-family="Liberation Sans" font-size="12.1" text-anchor="middle" font-style="normal" font-weight="normal" fill="#1a1a1a" stroke="#1a1a1a" stroke-width="0.2">0</text>
<text x="353.07" y="280.30" font-family="Liberation Sans" font-size="12.1" text-anchor="middle" font-style="normal" font-weight="normal" fill="#1a1a1a" stroke="#1a1a1a" stroke-width="0.2">1</text>
<text x="385.59" y="280.30" font-family="Liberation Sans" font-size="12.1" text-anchor="middle" font-style="normal" font-weight="normal" fill="#1a1a1a" stroke="#1a1a1a" stroke-width="0.2">2</text>
<text x="249.80" y="267.10" font-family="Liberation Sans" font-size="12.1" text-anchor="end" font-style="normal" font-weight="normal" fill="#1a1a1a" stroke="#1a1a1a" stroke-width="0.2">0</text>
<text x="249.80" y="218.80" font-family="Liberation Sans" font-size="12.1" text-anchor="end" font-style="normal" font-weight="normal" fill="#1a1a1a" stroke="#1a1a1a" stroke-width="0.2">0.05</text>
<text x="249.80" y="170.50" font-family="Liberation Sans" font-size="12.1" text-anchor="end" font-style="normal" font-weight="normal" fill="#1a1a1a" stroke="#1a1a1a" stroke-width="0.2">0.1</text>
<text x="259.80" y="164.20" font-family="Liberation Sans" font-size="15.6" text-anchor="start" font-style="normal" font-weight="normal" fill="#000" stroke="#000" stroke-width="0.55">(c)</text>
<line x1="294.40" y1="157.40" x2="314.80" y2="157.40" stroke="#ff0000" stroke-width="2.5" stroke-linecap="butt"/>
<text x="317.50" y="161.10" font-family="Liberation Serif" font-size="12.3" text-anchor="start" font-style="normal" font-weight="normal" fill="#262626" stroke="#262626" stroke-width="0.15">Γ</text>
<text x="332.50" y="161.10" font-family="Liberation Serif" font-size="12.3" text-anchor="start" font-style="italic" font-weight="normal" fill="#262626" stroke="#262626" stroke-width="0.15" textLength="9.40" lengthAdjust="spacingAndGlyphs">E</text>
<text x="342.60" y="163.10" font-family="Liberation Serif" font-size="8.8" text-anchor="start" font-style="normal" font-weight="normal" fill="#262626" stroke="#262626" stroke-width="0.15">0</text>
<text x="351.30" y="161.10" font-family="Liberation Serif" font-size="12.3" text-anchor="start" font-style="normal" font-weight="normal" fill="#262626" stroke="#262626" stroke-width="0.15" textLength="9.10" lengthAdjust="spacingAndGlyphs">=</text>
<text x="364.40" y="161.10" font-family="Liberation Serif" font-size="12.3" text-anchor="start" font-style="normal" font-weight="normal" fill="#262626" stroke="#262626" stroke-width="0.15" textLength="16.50" lengthAdjust="spacingAndGlyphs">0.5</text>
<line x1="326.00" y1="163.80" x2="331.50" y2="151.70" stroke="#262626" stroke-width="0.95" stroke-linecap="round"/>
<line x1="294.40" y1="173.80" x2="314.80" y2="173.80" stroke="#0000ff" stroke-width="2.5" stroke-linecap="butt"/>
<text x="317.50" y="177.50" font-family="Liberation Serif" font-size="12.3" text-anchor="start" font-style="normal" font-weight="normal" fill="#262626" stroke="#262626" stroke-width="0.15">Γ</text>
<text x="332.50" y="177.50" font-family="Liberation Serif" font-size="12.3" text-anchor="start" font-style="italic" font-weight="normal" fill="#262626" stroke="#262626" stroke-width="0.15" textLength="9.40" lengthAdjust="spacingAndGlyphs">E</text>
<text x="342.60" y="179.50" font-family="Liberation Serif" font-size="8.8" text-anchor="start" font-style="normal" font-weight="normal" fill="#262626" stroke="#262626" stroke-width="0.15">0</text>
<text x="351.30" y="177.50" font-family="Liberation Serif" font-size="12.3" text-anchor="start" font-style="normal" font-weight="normal" fill="#262626" stroke="#262626" stroke-width="0.15" textLength="9.10" lengthAdjust="spacingAndGlyphs">=</text>
<text x="364.40" y="177.50" font-family="Liberation Serif" font-size="12.3" text-anchor="start" font-style="normal" font-weight="normal" fill="#262626" stroke="#262626" stroke-width="0.15">1</text>
<line x1="326.00" y1="180.20" x2="331.50" y2="168.10" stroke="#262626" stroke-width="0.95" stroke-linecap="round"/>
<line x1="294.40" y1="190.10" x2="314.80" y2="190.10" stroke="#00ff00" stroke-width="2.5" stroke-linecap="butt"/>
<text x="317.50" y="193.80" font-family="Liberation Serif" font-size="12.3" text-anchor="start" font-style="normal" font-weight="normal" fill="#262626" stroke="#262626" stroke-width="0.15">Γ</text>
<text x="332.50" y="193.80" font-family="Liberation Serif" font-size="12.3" text-anchor="start" font-style="italic" font-weight="normal" fill="#262626" stroke="#262626" stroke-width="0.15" textLength="9.40" lengthAdjust="spacingAndGlyphs">E</text>
<text x="342.60" y="195.80" font-family="Liberation Serif" font-size="8.8" text-anchor="start" font-style="normal" font-weight="normal" fill="#262626" stroke="#262626" stroke-width="0.15">0</text>
<text x="351.30" y="193.80" font-family="Liberation Serif" font-size="12.3" text-anchor="start" font-style="normal" font-weight="normal" fill="#262626" stroke="#262626" stroke-width="0.15" textLength="9.10" lengthAdjust="spacingAndGlyphs">=</text>
<text x="364.40" y="193.80" font-family="Liberation Serif" font-size="12.3" text-anchor="start" font-style="normal" font-weight="normal" fill="#262626" stroke="#262626" stroke-width="0.15">2</text>
<line x1="326.00" y1="196.50" x2="331.50" y2="184.40" stroke="#262626" stroke-width="0.95" stroke-linecap="round"/>
<text x="303.95" y="295.30" font-family="Liberation Serif" font-size="12.4" text-anchor="start" font-style="italic" font-weight="normal" fill="#262626" textLength="8.30" lengthAdjust="spacingAndGlyphs">E</text>
<text x="320.95" y="295.30" font-family="Liberation Serif" font-size="12.4" text-anchor="start" font-style="italic" font-weight="normal" fill="#262626" textLength="8.60" lengthAdjust="spacingAndGlyphs">E</text>
<text x="330.05" y="297.30" font-family="Liberation Serif" font-size="8.8" text-anchor="start" font-style="normal" font-weight="normal" fill="#262626">0</text>
<line x1="313.75" y1="298.30" x2="319.35" y2="285.80" stroke="#262626" stroke-width="0.95" stroke-linecap="round"/>
<line x1="383.40" y1="147.00" x2="383.40" y2="166.00" stroke="#555" stroke-width="0.8" stroke-linecap="butt"/>
<path transform="translate(218.40,215.20) rotate(-90) scale(12.9)" d="M0.02,-0.56 C0.03,-0.66 0.12,-0.70 0.26,-0.685 L0.62,-0.665 C0.70,-0.66 0.77,-0.68 0.82,-0.73 M0.50,-0.675 C0.45,-0.50 0.38,-0.22 0.29,-0.01" fill="none" stroke="#262626" stroke-width="0.085" stroke-linecap="round" stroke-linejoin="round"/>
<g transform="translate(220.00,207.50) rotate(-90)"><text x="0" y="0" font-family="Liberation Serif" font-size="8.8" font-style="italic" fill="#262626" textLength="11.6" lengthAdjust="spacingAndGlyphs">LR</text></g>
<rect x="153.50" y="305.00" width="119.40" height="116.40" fill="#e6e6e6" stroke="none" stroke-width="1"/>
<rect x="52.00" y="305.00" width="333.60" height="116.40" fill="none" stroke="#1a1a1a" stroke-width="1.2"/>
<line x1="91.10" y1="421.40" x2="91.10" y2="417.90" stroke="#1a1a1a" stroke-width="1" stroke-linecap="butt"/>
<line x1="91.10" y1="305.00" x2="91.10" y2="308.50" stroke="#1a1a1a" stroke-width="1" stroke-linecap="butt"/>
<line x1="125.78" y1="421.40" x2="125.78" y2="419.40" stroke="#1a1a1a" stroke-width="1" stroke-linecap="butt"/>
<line x1="125.78" y1="305.00" x2="125.78" y2="307.00" stroke="#1a1a1a" stroke-width="1" stroke-linecap="butt"/>
<line x1="155.10" y1="421.40" x2="155.10" y2="419.40" stroke="#1a1a1a" stroke-width="1" stroke-linecap="butt"/>
<line x1="155.10" y1="305.00" x2="155.10" y2="307.00" stroke="#1a1a1a" stroke-width="1" stroke-linecap="butt"/>
<line x1="180.50" y1="421.40" x2="180.50" y2="419.40" stroke="#1a1a1a" stroke-width="1" stroke-linecap="butt"/>
<line x1="180.50" y1="305.00" x2="180.50" y2="307.00" stroke="#1a1a1a" stroke-width="1" stroke-linecap="butt"/>
<line x1="202.91" y1="421.40" x2="202.91" y2="419.40" stroke="#1a1a1a" stroke-width="1" stroke-linecap="butt"/>
<line x1="202.91" y1="305.00" x2="202.91" y2="307.00" stroke="#1a1a1a" stroke-width="1" stroke-linecap="butt"/>
<line x1="222.95" y1="421.40" x2="222.95" y2="417.90" stroke="#1a1a1a" stroke-width="1" stroke-linecap="butt"/>
<line x1="222.95" y1="305.00" x2="222.95" y2="308.50" stroke="#1a1a1a" stroke-width="1" stroke-linecap="butt"/>
<line x1="241.08" y1="421.40" x2="241.08" y2="419.40" stroke="#1a1a1a" stroke-width="1" stroke-linecap="butt"/>
<line x1="241.08" y1="305.00" x2="241.08" y2="307.00" stroke="#1a1a1a" stroke-width="1" stroke-linecap="butt"/>
<line x1="257.63" y1="421.40" x2="257.63" y2="419.40" stroke="#1a1a1a" stroke-width="1" stroke-linecap="butt"/>
<line x1="257.63" y1="305.00" x2="257.63" y2="307.00" stroke="#1a1a1a" stroke-width="1" stroke-linecap="butt"/>
<line x1="272.86" y1="421.40" x2="272.86" y2="419.40" stroke="#1a1a1a" stroke-width="1" stroke-linecap="butt"/>
<line x1="272.86" y1="305.00" x2="272.86" y2="307.00" stroke="#1a1a1a" stroke-width="1" stroke-linecap="butt"/>
<line x1="286.96" y1="421.40" x2="286.96" y2="419.40" stroke="#1a1a1a" stroke-width="1" stroke-linecap="butt"/>
<line x1="286.96" y1="305.00" x2="286.96" y2="307.00" stroke="#1a1a1a" stroke-width="1" stroke-linecap="butt"/>
<line x1="300.08" y1="421.40" x2="300.08" y2="417.90" stroke="#1a1a1a" stroke-width="1" stroke-linecap="butt"/>
<line x1="300.08" y1="305.00" x2="300.08" y2="308.50" stroke="#1a1a1a" stroke-width="1" stroke-linecap="butt"/>
<line x1="312.36" y1="421.40" x2="312.36" y2="419.40" stroke="#1a1a1a" stroke-width="1" stroke-linecap="butt"/>
<line x1="312.36" y1="305.00" x2="312.36" y2="307.00" stroke="#1a1a1a" stroke-width="1" stroke-linecap="butt"/>
<line x1="323.89" y1="421.40" x2="323.89" y2="419.40" stroke="#1a1a1a" stroke-width="1" stroke-linecap="butt"/>
<line x1="323.89" y1="305.00" x2="323.89" y2="307.00" stroke="#1a1a1a" stroke-width="1" stroke-linecap="butt"/>
<line x1="334.76" y1="421.40" x2="334.76" y2="419.40" stroke="#1a1a1a" stroke-width="1" stroke-linecap="butt"/>
<line x1="334.76" y1="305.00" x2="334.76" y2="307.00" stroke="#1a1a1a" stroke-width="1" stroke-linecap="butt"/>
<line x1="345.05" y1="421.40" x2="345.05" y2="419.40" stroke="#1a1a1a" stroke-width="1" stroke-linecap="butt"/>
<line x1="345.05" y1="305.00" x2="345.05" y2="307.00" stroke="#1a1a1a" stroke-width="1" stroke-linecap="butt"/>
<line x1="354.80" y1="421.40" x2="354.80" y2="417.90" stroke="#1a1a1a" stroke-width="1" stroke-linecap="butt"/>
<line x1="354.80" y1="305.00" x2="354.80" y2="308.50" stroke="#1a1a1a" stroke-width="1" stroke-linecap="butt"/>
<line x1="364.08" y1="421.40" x2="364.08" y2="419.40" stroke="#1a1a1a" stroke-width="1" stroke-linecap="butt"/>
<line x1="364.08" y1="305.00" x2="364.08" y2="307.00" stroke="#1a1a1a" stroke-width="1" stroke-linecap="butt"/>
<line x1="372.93" y1="421.40" x2="372.93" y2="419.40" stroke="#1a1a1a" stroke-width="1" stroke-linecap="butt"/>
<line x1="372.93" y1="305.00" x2="372.93" y2="307.00" stroke="#1a1a1a" stroke-width="1" stroke-linecap="butt"/>
<line x1="381.39" y1="421.40" x2="381.39" y2="419.40" stroke="#1a1a1a" stroke-width="1" stroke-linecap="butt"/>
<line x1="381.39" y1="305.00" x2="381.39" y2="307.00" stroke="#1a1a1a" stroke-width="1" stroke-linecap="butt"/>
<line x1="52.00" y1="415.35" x2="54.00" y2="415.35" stroke="#1a1a1a" stroke-width="1" stroke-linecap="butt"/>
<line x1="385.60" y1="415.35" x2="383.60" y2="415.35" stroke="#1a1a1a" stroke-width="1" stroke-linecap="butt"/>
<line x1="52.00" y1="409.81" x2="54.00" y2="409.81" stroke="#1a1a1a" stroke-width="1" stroke-linecap="butt"/>
<line x1="385.60" y1="409.81" x2="383.60" y2="409.81" stroke="#1a1a1a" stroke-width="1" stroke-linecap="butt"/>
<line x1="52.00" y1="404.93" x2="54.00" y2="404.93" stroke="#1a1a1a" stroke-width="1" stroke-linecap="butt"/>
<line x1="385.60" y1="404.93" x2="383.60" y2="404.93" stroke="#1a1a1a" stroke-width="1" stroke-linecap="butt"/>
<line x1="52.00" y1="400.56" x2="55.50" y2="400.56" stroke="#1a1a1a" stroke-width="1" stroke-linecap="butt"/>
<line x1="385.60" y1="400.56" x2="382.10" y2="400.56" stroke="#1a1a1a" stroke-width="1" stroke-linecap="butt"/>
<line x1="52.00" y1="371.81" x2="54.00" y2="371.81" stroke="#1a1a1a" stroke-width="1" stroke-linecap="butt"/>
<line x1="385.60" y1="371.81" x2="383.60" y2="371.81" stroke="#1a1a1a" stroke-width="1" stroke-linecap="butt"/>
<line x1="52.00" y1="354.99" x2="54.00" y2="354.99" stroke="#1a1a1a" stroke-width="1" stroke-linecap="butt"/>
<line x1="385.60" y1="354.99" x2="383.60" y2="354.99" stroke="#1a1a1a" stroke-width="1" stroke-linecap="butt"/>
<line x1="52.00" y1="343.06" x2="54.00" y2="343.06" stroke="#1a1a1a" stroke-width="1" stroke-linecap="butt"/>
<line x1="385.60" y1="343.06" x2="383.60" y2="343.06" stroke="#1a1a1a" stroke-width="1" stroke-linecap="butt"/>
<line x1="52.00" y1="333.81" x2="54.00" y2="333.81" stroke="#1a1a1a" stroke-width="1" stroke-linecap="butt"/>
<line x1="385.60" y1="333.81" x2="383.60" y2="333.81" stroke="#1a1a1a" stroke-width="1" stroke-linecap="butt"/>
<line x1="52.00" y1="326.25" x2="54.00" y2="326.25" stroke="#1a1a1a" stroke-width="1" stroke-linecap="butt"/>
<line x1="385.60" y1="326.25" x2="383.60" y2="326.25" stroke="#1a1a1a" stroke-width="1" stroke-linecap="butt"/>
<line x1="52.00" y1="319.85" x2="54.00" y2="319.85" stroke="#1a1a1a" stroke-width="1" stroke-linecap="butt"/>
<line x1="385.60" y1="319.85" x2="383.60" y2="319.85" stroke="#1a1a1a" stroke-width="1" stroke-linecap="butt"/>
<line x1="52.00" y1="314.31" x2="54.00" y2="314.31" stroke="#1a1a1a" stroke-width="1" stroke-linecap="butt"/>
<line x1="385.60" y1="314.31" x2="383.60" y2="314.31" stroke="#1a1a1a" stroke-width="1" stroke-linecap="butt"/>
<line x1="52.00" y1="309.43" x2="54.00" y2="309.43" stroke="#1a1a1a" stroke-width="1" stroke-linecap="butt"/>
<line x1="385.60" y1="309.43" x2="383.60" y2="309.43" stroke="#1a1a1a" stroke-width="1" stroke-linecap="butt"/>
<line x1="52.00" y1="305.06" x2="55.50" y2="305.06" stroke="#1a1a1a" stroke-width="1" stroke-linecap="butt"/>
<line x1="385.60" y1="305.06" x2="382.10" y2="305.06" stroke="#1a1a1a" stroke-width="1" stroke-linecap="butt"/>
<rect x="67.20" y="345.50" width="5.60" height="5.20" fill="#0000ff" stroke="none" stroke-width="1"/>
<rect x="98.93" y="349.50" width="5.60" height="5.20" fill="#0000ff" stroke="none" stroke-width="1"/>
<rect x="126.13" y="354.00" width="5.60" height="5.20" fill="#0000ff" stroke="none" stroke-width="1"/>
<rect x="149.91" y="357.60" width="5.60" height="5.20" fill="#0000ff" stroke="none" stroke-width="1"/>
<rect x="171.05" y="361.70" width="5.60" height="5.20" fill="#0000ff" stroke="none" stroke-width="1"/>
<rect x="190.07" y="365.30" width="5.60" height="5.20" fill="#0000ff" stroke="none" stroke-width="1"/>
<rect x="207.37" y="369.30" width="5.60" height="5.20" fill="#0000ff" stroke="none" stroke-width="1"/>
<rect x="223.22" y="372.90" width="5.60" height="5.20" fill="#0000ff" stroke="none" stroke-width="1"/>
<rect x="237.85" y="376.30" width="5.60" height="5.20" fill="#0000ff" stroke="none" stroke-width="1"/>
<rect x="251.43" y="380.10" width="5.60" height="5.20" fill="#0000ff" stroke="none" stroke-width="1"/>
<rect x="264.11" y="383.50" width="5.60" height="5.20" fill="#0000ff" stroke="none" stroke-width="1"/>
<rect x="276.00" y="386.90" width="5.60" height="5.20" fill="#0000ff" stroke="none" stroke-width="1"/>
<rect x="287.19" y="390.30" width="5.60" height="5.20" fill="#0000ff" stroke="none" stroke-width="1"/>
<rect x="297.75" y="393.60" width="5.60" height="5.20" fill="#0000ff" stroke="none" stroke-width="1"/>
<rect x="307.76" y="396.90" width="5.60" height="5.20" fill="#0000ff" stroke="none" stroke-width="1"/>
<rect x="317.27" y="400.10" width="5.60" height="5.20" fill="#0000ff" stroke="none" stroke-width="1"/>
<rect x="326.33" y="403.40" width="5.60" height="5.20" fill="#0000ff" stroke="none" stroke-width="1"/>
<rect x="334.97" y="406.70" width="5.60" height="5.20" fill="#0000ff" stroke="none" stroke-width="1"/>
<rect x="343.24" y="410.00" width="5.60" height="5.20" fill="#0000ff" stroke="none" stroke-width="1"/>
<rect x="351.17" y="413.20" width="5.60" height="5.20" fill="#0000ff" stroke="none" stroke-width="1"/>
<rect x="358.78" y="415.90" width="5.60" height="5.20" fill="#0000ff" stroke="none" stroke-width="1"/>
<line x1="52.40" y1="337.60" x2="77.20" y2="343.00" stroke="#ff0000" stroke-width="3.2" stroke-linecap="butt"/>
<line x1="103.80" y1="349.60" x2="129.20" y2="355.10" stroke="#ff0000" stroke-width="3.2" stroke-linecap="butt"/>
<line x1="153.40" y1="359.60" x2="272.80" y2="385.90" stroke="#ff0000" stroke-width="3.2" stroke-linecap="butt"/>
<line x1="299.40" y1="391.90" x2="324.60" y2="397.20" stroke="#ff0000" stroke-width="3.2" stroke-linecap="butt"/>
<line x1="350.10" y1="402.70" x2="375.30" y2="408.30" stroke="#ff0000" stroke-width="3.2" stroke-linecap="butt"/>
<text x="91.10" y="439.60" font-family="Liberation Sans" font-size="12.1" text-anchor="middle" font-style="normal" font-weight="normal" fill="#1a1a1a" stroke="#1a1a1a" stroke-width="0.2">1</text>
<text x="222.95" y="439.60" font-family="Liberation Sans" font-size="12.1" text-anchor="middle" font-style="normal" font-weight="normal" fill="#1a1a1a" stroke="#1a1a1a" stroke-width="0.2">2</text>
<text x="300.08" y="439.60" font-family="Liberation Sans" font-size="12.1" text-anchor="middle" font-style="normal" font-weight="normal" fill="#1a1a1a" stroke="#1a1a1a" stroke-width="0.2">3</text>
<text x="354.80" y="439.60" font-family="Liberation Sans" font-size="12.1" text-anchor="middle" font-style="normal" font-weight="normal" fill="#1a1a1a" stroke="#1a1a1a" stroke-width="0.2">4</text>
<text x="26.00" y="312.16" font-family="Liberation Sans" font-size="12.5" text-anchor="start" font-style="normal" font-weight="normal" fill="#1a1a1a" stroke="#1a1a1a" stroke-width="0.2">10</text>
<text x="39.20" y="306.06" font-family="Liberation Sans" font-size="9.6" text-anchor="start" font-style="normal" font-weight="normal" fill="#1a1a1a" stroke="#1a1a1a" stroke-width="0.2">-1</text>
<text x="26.00" y="407.66" font-family="Liberation Sans" font-size="12.5" text-anchor="start" font-style="normal" font-weight="normal" fill="#1a1a1a" stroke="#1a1a1a" stroke-width="0.2">10</text>
<text x="39.20" y="401.56" font-family="Liberation Sans" font-size="9.6" text-anchor="start" font-style="normal" font-weight="normal" fill="#1a1a1a" stroke="#1a1a1a" stroke-width="0.2">-2</text>
<text x="58.00" y="324.50" font-family="Liberation Sans" font-size="15.2" text-anchor="start" font-style="normal" font-weight="normal" fill="#000" stroke="#000" stroke-width="0.3">(d)</text>
<text x="81.60" y="325.50" font-family="Liberation Serif" font-size="12.9" text-anchor="start" font-style="normal" font-weight="normal" fill="#111" stroke="#111" stroke-width="0.2">Ballistic</text>
<text x="188.00" y="325.50" font-family="Liberation Serif" font-size="12.9" text-anchor="start" font-style="normal" font-weight="normal" fill="#111" stroke="#111" stroke-width="0.2">Diffusion</text>
<text x="297.50" y="325.50" font-family="Liberation Serif" font-size="12.9" text-anchor="start" font-style="normal" font-weight="normal" fill="#111" stroke="#111" stroke-width="0.2">Localization</text>
<rect x="72.20" y="386.30" width="5.90" height="5.70" fill="#0000ff" stroke="none" stroke-width="1"/>
<text x="91.70" y="393.40" font-family="Liberation Serif" font-size="14.5" text-anchor="start" font-style="normal" font-weight="normal" fill="#111" stroke="#111" stroke-width="0.15">Data</text>
<line x1="64.50" y1="405.50" x2="85.60" y2="405.50" stroke="#ff0000" stroke-width="2.6" stroke-linecap="butt"/>
<text x="91.70" y="410.00" font-family="Liberation Serif" font-size="14.5" text-anchor="start" font-style="normal" font-weight="normal" fill="#111" stroke="#111" stroke-width="0.15">Fit</text>
<text x="200.00" y="456.70" font-family="Liberation Serif" font-size="13.4" text-anchor="start" font-style="italic" font-weight="normal" fill="#262626" textLength="8.80" lengthAdjust="spacingAndGlyphs">L</text>
<text x="215.80" y="456.70" font-family="Liberation Serif" font-size="14.5" text-anchor="start" font-style="italic" font-weight="normal" fill="#262626" textLength="4.80" lengthAdjust="spacingAndGlyphs">ℓ</text>
<text x="220.70" y="459.00" font-family="Liberation Serif" font-size="9.6" text-anchor="start" font-style="normal" font-weight="normal" fill="#262626" textLength="17.40" lengthAdjust="spacingAndGlyphs">QM</text>
<line x1="210.70" y1="460.40" x2="214.70" y2="446.30" stroke="#262626" stroke-width="0.95" stroke-linecap="round"/>
<path transform="translate(12.30,392.30) rotate(-90) scale(15.0)" d="M0.02,-0.56 C0.03,-0.66 0.12,-0.70 0.26,-0.685 L0.62,-0.665 C0.70,-0.66 0.77,-0.68 0.82,-0.73 M0.50,-0.675 C0.45,-0.50 0.38,-0.22 0.29,-0.01" fill="none" stroke="#262626" stroke-width="0.085" stroke-linecap="round" stroke-linejoin="round"/>
<g transform="translate(12.3,392.5) rotate(-90)">
<text x="12.50" y="0.60" font-family="Liberation Serif" font-size="15.7" text-anchor="start" font-style="normal" font-weight="normal" fill="#262626" textLength="5.80" lengthAdjust="spacingAndGlyphs">(</text>
<text x="18.90" y="0.00" font-family="Liberation Serif" font-size="14.4" text-anchor="start" font-style="italic" font-weight="normal" fill="#262626" textLength="9.60" lengthAdjust="spacingAndGlyphs">E</text>
<text x="31.90" y="0.00" font-family="Liberation Serif" font-size="14.4" text-anchor="start" font-style="normal" font-weight="normal" fill="#262626" textLength="9.60" lengthAdjust="spacingAndGlyphs">=</text>
<text x="46.00" y="0.00" font-family="Liberation Serif" font-size="14.4" text-anchor="start" font-style="normal" font-weight="normal" fill="#262626">0</text>
<text x="52.60" y="0.60" font-family="Liberation Serif" font-size="15.7" text-anchor="start" font-style="normal" font-weight="normal" fill="#262626" textLength="5.80" lengthAdjust="spacingAndGlyphs">)</text>
</g>
<rect x="50.95" y="469.70" width="334.35" height="101.80" fill="none" stroke="#1a1a1a" stroke-width="1.2"/>
<line x1="134.55" y1="571.50" x2="134.55" y2="567.70" stroke="#1a1a1a" stroke-width="1.1" stroke-linecap="butt"/>
<line x1="134.55" y1="469.70" x2="134.55" y2="473.50" stroke="#1a1a1a" stroke-width="1.1" stroke-linecap="butt"/>
<line x1="218.15" y1="571.50" x2="218.15" y2="567.70" stroke="#1a1a1a" stroke-width="1.1" stroke-linecap="butt"/>
<line x1="218.15" y1="469.70" x2="218.15" y2="473.50" stroke="#1a1a1a" stroke-width="1.1" stroke-linecap="butt"/>
<line x1="301.75" y1="571.50" x2="301.75" y2="567.70" stroke="#1a1a1a" stroke-width="1.1" stroke-linecap="butt"/>
<line x1="301.75" y1="469.70" x2="301.75" y2="473.50" stroke="#1a1a1a" stroke-width="1.1" stroke-linecap="butt"/>
<line x1="50.95" y1="565.90" x2="54.75" y2="565.90" stroke="#1a1a1a" stroke-width="1.1" stroke-linecap="butt"/>
<line x1="385.30" y1="565.90" x2="381.50" y2="565.90" stroke="#1a1a1a" stroke-width="1.1" stroke-linecap="butt"/>
<text x="45.30" y="570.90" font-family="Liberation Sans" font-size="13.8" text-anchor="end" font-style="normal" font-weight="normal" fill="#1a1a1a" stroke="#1a1a1a" stroke-width="0.2">25</text>
<line x1="50.95" y1="536.53" x2="54.75" y2="536.53" stroke="#1a1a1a" stroke-width="1.1" stroke-linecap="butt"/>
<line x1="385.30" y1="536.53" x2="381.50" y2="536.53" stroke="#1a1a1a" stroke-width="1.1" stroke-linecap="butt"/>
<text x="45.30" y="541.53" font-family="Liberation Sans" font-size="13.8" text-anchor="end" font-style="normal" font-weight="normal" fill="#1a1a1a" stroke="#1a1a1a" stroke-width="0.2">50</text>
<line x1="50.95" y1="507.16" x2="54.75" y2="507.16" stroke="#1a1a1a" stroke-width="1.1" stroke-linecap="butt"/>
<line x1="385.30" y1="507.16" x2="381.50" y2="507.16" stroke="#1a1a1a" stroke-width="1.1" stroke-linecap="butt"/>
<text x="45.30" y="512.16" font-family="Liberation Sans" font-size="13.8" text-anchor="end" font-style="normal" font-weight="normal" fill="#1a1a1a" stroke="#1a1a1a" stroke-width="0.2">75</text>
<line x1="50.95" y1="477.79" x2="54.75" y2="477.79" stroke="#1a1a1a" stroke-width="1.1" stroke-linecap="butt"/>
<line x1="385.30" y1="477.79" x2="381.50" y2="477.79" stroke="#1a1a1a" stroke-width="1.1" stroke-linecap="butt"/>
<text x="45.30" y="482.79" font-family="Liberation Sans" font-size="13.8" text-anchor="end" font-style="normal" font-weight="normal" fill="#1a1a1a" stroke="#1a1a1a" stroke-width="0.2">100</text>
<polyline points="51.12,539.00 51.28,534.00 51.45,531.00 51.79,527.00 52.12,524.50 52.62,522.00 54.29,517.00 55.97,513.80 59.31,510.00 67.67,504.30 84.39,504.30 105.89,501.30 127.38,501.30 148.88,501.30 170.38,497.90 191.88,503.20 213.37,501.30 234.87,499.60 256.37,497.60 277.86,501.40 299.36,501.60 320.86,495.50 342.36,503.70 363.85,510.30 385.35,495.90" fill="none" stroke="#ff0000" stroke-width="3.0" stroke-linejoin="round" stroke-linecap="butt"/>
<circle cx="51.12" cy="539.00" r="4.3" fill="none" stroke="#ff0000" stroke-width="2.8"/>
<circle cx="51.28" cy="534.00" r="4.3" fill="none" stroke="#ff0000" stroke-width="2.8"/>
<circle cx="51.45" cy="531.00" r="4.3" fill="none" stroke="#ff0000" stroke-width="2.8"/>
<circle cx="51.79" cy="527.00" r="4.3" fill="none" stroke="#ff0000" stroke-width="2.8"/>
<circle cx="52.12" cy="524.50" r="4.3" fill="none" stroke="#ff0000" stroke-width="2.8"/>
<circle cx="52.62" cy="522.00" r="4.3" fill="none" stroke="#ff0000" stroke-width="2.8"/>
<circle cx="54.29" cy="517.00" r="4.3" fill="none" stroke="#ff0000" stroke-width="2.8"/>
<circle cx="55.97" cy="513.80" r="4.3" fill="none" stroke="#ff0000" stroke-width="2.8"/>
<circle cx="59.31" cy="510.00" r="4.3" fill="none" stroke="#ff0000" stroke-width="2.8"/>
<circle cx="67.67" cy="504.30" r="4.3" fill="none" stroke="#ff0000" stroke-width="2.8"/>
<circle cx="84.39" cy="504.30" r="4.3" fill="none" stroke="#ff0000" stroke-width="2.8"/>
<circle cx="105.89" cy="501.30" r="4.3" fill="none" stroke="#ff0000" stroke-width="2.8"/>
<circle cx="127.38" cy="501.30" r="4.3" fill="none" stroke="#ff0000" stroke-width="2.8"/>
<circle cx="148.88" cy="501.30" r="4.3" fill="none" stroke="#ff0000" stroke-width="2.8"/>
<circle cx="170.38" cy="497.90" r="4.3" fill="none" stroke="#ff0000" stroke-width="2.8"/>
<circle cx="191.88" cy="503.20" r="4.3" fill="none" stroke="#ff0000" stroke-width="2.8"/>
<circle cx="213.37" cy="501.30" r="4.3" fill="none" stroke="#ff0000" stroke-width="2.8"/>
<circle cx="234.87" cy="499.60" r="4.3" fill="none" stroke="#ff0000" stroke-width="2.8"/>
<circle cx="256.37" cy="497.60" r="4.3" fill="none" stroke="#ff0000" stroke-width="2.8"/>
<circle cx="277.86" cy="501.40" r="4.3" fill="none" stroke="#ff0000" stroke-width="2.8"/>
<circle cx="299.36" cy="501.60" r="4.3" fill="none" stroke="#ff0000" stroke-width="2.8"/>
<circle cx="320.86" cy="495.50" r="4.3" fill="none" stroke="#ff0000" stroke-width="2.8"/>
<circle cx="342.36" cy="503.70" r="4.3" fill="none" stroke="#ff0000" stroke-width="2.8"/>
<circle cx="363.85" cy="510.30" r="4.3" fill="none" stroke="#ff0000" stroke-width="2.8"/>
<circle cx="385.35" cy="495.90" r="4.3" fill="none" stroke="#ff0000" stroke-width="2.8"/>
<polyline points="51.12,554.00 51.28,551.00 51.45,549.00 51.79,546.50 52.12,545.00 52.62,543.00 54.29,539.00 55.97,536.70 59.31,534.00 67.67,531.20 84.39,529.50 105.89,528.30 127.38,529.20 148.88,528.50 170.38,532.20 191.88,526.60 213.37,526.60 234.87,526.00 256.37,526.50 277.86,529.30 299.36,526.20 320.86,524.90 342.36,526.00 363.85,527.80 385.35,528.60" fill="none" stroke="#0000ff" stroke-width="3.0" stroke-linejoin="round" stroke-linecap="butt"/>
<circle cx="51.12" cy="554.00" r="4.3" fill="none" stroke="#0000ff" stroke-width="2.8"/>
<circle cx="51.28" cy="551.00" r="4.3" fill="none" stroke="#0000ff" stroke-width="2.8"/>
<circle cx="51.45" cy="549.00" r="4.3" fill="none" stroke="#0000ff" stroke-width="2.8"/>
<circle cx="51.79" cy="546.50" r="4.3" fill="none" stroke="#0000ff" stroke-width="2.8"/>
<circle cx="52.12" cy="545.00" r="4.3" fill="none" stroke="#0000ff" stroke-width="2.8"/>
<circle cx="52.62" cy="543.00" r="4.3" fill="none" stroke="#0000ff" stroke-width="2.8"/>
<circle cx="54.29" cy="539.00" r="4.3" fill="none" stroke="#0000ff" stroke-width="2.8"/>
<circle cx="55.97" cy="536.70" r="4.3" fill="none" stroke="#0000ff" stroke-width="2.8"/>
<circle cx="59.31" cy="534.00" r="4.3" fill="none" stroke="#0000ff" stroke-width="2.8"/>
<circle cx="67.67" cy="531.20" r="4.3" fill="none" stroke="#0000ff" stroke-width="2.8"/>
<circle cx="84.39" cy="529.50" r="4.3" fill="none" stroke="#0000ff" stroke-width="2.8"/>
<circle cx="105.89" cy="528.30" r="4.3" fill="none" stroke="#0000ff" stroke-width="2.8"/>
<circle cx="127.38" cy="529.20" r="4.3" fill="none" stroke="#0000ff" stroke-width="2.8"/>
<circle cx="148.88" cy="528.50" r="4.3" fill="none" stroke="#0000ff" stroke-width="2.8"/>
<circle cx="170.38" cy="532.20" r="4.3" fill="none" stroke="#0000ff" stroke-width="2.8"/>
<circle cx="191.88" cy="526.60" r="4.3" fill="none" stroke="#0000ff" stroke-width="2.8"/>
<circle cx="213.37" cy="526.60" r="4.3" fill="none" stroke="#0000ff" stroke-width="2.8"/>
<circle cx="234.87" cy="526.00" r="4.3" fill="none" stroke="#0000ff" stroke-width="2.8"/>
<circle cx="256.37" cy="526.50" r="4.3" fill="none" stroke="#0000ff" stroke-width="2.8"/>
<circle cx="277.86" cy="529.30" r="4.3" fill="none" stroke="#0000ff" stroke-width="2.8"/>
<circle cx="299.36" cy="526.20" r="4.3" fill="none" stroke="#0000ff" stroke-width="2.8"/>
<circle cx="320.86" cy="524.90" r="4.3" fill="none" stroke="#0000ff" stroke-width="2.8"/>
<circle cx="342.36" cy="526.00" r="4.3" fill="none" stroke="#0000ff" stroke-width="2.8"/>
<circle cx="363.85" cy="527.80" r="4.3" fill="none" stroke="#0000ff" stroke-width="2.8"/>
<circle cx="385.35" cy="528.60" r="4.3" fill="none" stroke="#0000ff" stroke-width="2.8"/>
<polyline points="51.12,571.50 51.28,570.30 51.45,569.50 51.79,568.30 52.12,567.50 52.62,566.50 54.29,564.50 55.97,563.20 59.31,562.00 67.67,560.80 84.39,560.50 105.89,559.50 127.38,559.40 148.88,559.40 170.38,558.30 191.88,559.40 213.37,557.80 234.87,557.80 256.37,558.00 277.86,559.00 299.36,558.30 320.86,558.00 342.36,556.50 363.85,560.50 385.35,560.50" fill="none" stroke="#2ca82c" stroke-width="3.0" stroke-linejoin="round" stroke-linecap="butt"/>
<circle cx="51.12" cy="571.50" r="4.3" fill="none" stroke="#2ca82c" stroke-width="2.8"/>
<circle cx="51.28" cy="570.30" r="4.3" fill="none" stroke="#2ca82c" stroke-width="2.8"/>
<circle cx="51.45" cy="569.50" r="4.3" fill="none" stroke="#2ca82c" stroke-width="2.8"/>
<circle cx="51.79" cy="568.30" r="4.3" fill="none" stroke="#2ca82c" stroke-width="2.8"/>
<circle cx="52.12" cy="567.50" r="4.3" fill="none" stroke="#2ca82c" stroke-width="2.8"/>
<circle cx="52.62" cy="566.50" r="4.3" fill="none" stroke="#2ca82c" stroke-width="2.8"/>
<circle cx="54.29" cy="564.50" r="4.3" fill="none" stroke="#2ca82c" stroke-width="2.8"/>
<circle cx="55.97" cy="563.20" r="4.3" fill="none" stroke="#2ca82c" stroke-width="2.8"/>
<circle cx="59.31" cy="562.00" r="4.3" fill="none" stroke="#2ca82c" stroke-width="2.8"/>
<circle cx="67.67" cy="560.80" r="4.3" fill="none" stroke="#2ca82c" stroke-width="2.8"/>
<circle cx="84.39" cy="560.50" r="4.3" fill="none" stroke="#2ca82c" stroke-width="2.8"/>
<circle cx="105.89" cy="559.50" r="4.3" fill="none" stroke="#2ca82c" stroke-width="2.8"/>
<circle cx="127.38" cy="559.40" r="4.3" fill="none" stroke="#2ca82c" stroke-width="2.8"/>
<circle cx="148.88" cy="559.40" r="4.3" fill="none" stroke="#2ca82c" stroke-width="2.8"/>
<circle cx="170.38" cy="558.30" r="4.3" fill="none" stroke="#2ca82c" stroke-width="2.8"/>
<circle cx="191.88" cy="559.40" r="4.3" fill="none" stroke="#2ca82c" stroke-width="2.8"/>
<circle cx="213.37" cy="557.80" r="4.3" fill="none" stroke="#2ca82c" stroke-width="2.8"/>
<circle cx="234.87" cy="557.80" r="4.3" fill="none" stroke="#2ca82c" stroke-width="2.8"/>
<circle cx="256.37" cy="558.00" r="4.3" fill="none" stroke="#2ca82c" stroke-width="2.8"/>
<circle cx="277.86" cy="559.00" r="4.3" fill="none" stroke="#2ca82c" stroke-width="2.8"/>
<circle cx="299.36" cy="558.30" r="4.3" fill="none" stroke="#2ca82c" stroke-width="2.8"/>
<circle cx="320.86" cy="558.00" r="4.3" fill="none" stroke="#2ca82c" stroke-width="2.8"/>
<circle cx="342.36" cy="556.50" r="4.3" fill="none" stroke="#2ca82c" stroke-width="2.8"/>
<circle cx="363.85" cy="560.50" r="4.3" fill="none" stroke="#2ca82c" stroke-width="2.8"/>
<circle cx="385.35" cy="560.50" r="4.3" fill="none" stroke="#2ca82c" stroke-width="2.8"/>
<text x="50.95" y="589.00" font-family="Liberation Sans" font-size="13.7" text-anchor="middle" font-style="normal" font-weight="normal" fill="#1a1a1a" stroke="#1a1a1a" stroke-width="0.2">0</text>
<text x="134.55" y="589.00" font-family="Liberation Sans" font-size="13.7" text-anchor="middle" font-style="normal" font-weight="normal" fill="#1a1a1a" stroke="#1a1a1a" stroke-width="0.2">0.5</text>
<text x="218.15" y="589.00" font-family="Liberation Sans" font-size="13.7" text-anchor="middle" font-style="normal" font-weight="normal" fill="#1a1a1a" stroke="#1a1a1a" stroke-width="0.2">1</text>
<text x="301.75" y="589.00" font-family="Liberation Sans" font-size="13.7" text-anchor="middle" font-style="normal" font-weight="normal" fill="#1a1a1a" stroke="#1a1a1a" stroke-width="0.2">1.5</text>
<text x="385.35" y="589.00" font-family="Liberation Sans" font-size="13.7" text-anchor="middle" font-style="normal" font-weight="normal" fill="#1a1a1a" stroke="#1a1a1a" stroke-width="0.2">2</text>
<text x="56.80" y="490.00" font-family="Liberation Sans" font-size="15.2" text-anchor="start" font-style="normal" font-weight="normal" fill="#111" stroke="#111" stroke-width="0.25">(e)</text>
<line x1="83.50" y1="481.90" x2="104.20" y2="481.90" stroke="#ff0000" stroke-width="2.9" stroke-linecap="butt"/>
<circle cx="93.60" cy="481.90" r="4.1" fill="none" stroke="#ff0000" stroke-width="2.7"/>
<text x="106.60" y="485.70" font-family="Liberation Serif" font-size="16" text-anchor="start" font-style="italic" font-weight="normal" fill="#262626" stroke="#262626" stroke-width="0.22" textLength="5.20" lengthAdjust="spacingAndGlyphs">ℓ</text>
<text x="112.40" y="488.10" font-family="Liberation Serif" font-size="10.2" text-anchor="start" font-style="normal" font-weight="normal" fill="#262626" stroke="#262626" stroke-width="0.22" textLength="16.20" lengthAdjust="spacingAndGlyphs">QM</text>
<text x="137.80" y="485.70" font-family="Liberation Serif" font-size="15" text-anchor="start" font-style="italic" font-weight="normal" fill="#262626" stroke="#262626" stroke-width="0.22" textLength="7.00" lengthAdjust="spacingAndGlyphs">a</text>
<text x="149.40" y="485.70" font-family="Liberation Serif" font-size="14.6" text-anchor="start" font-style="normal" font-weight="normal" fill="#262626" stroke="#262626" stroke-width="0.22" textLength="10.60" lengthAdjust="spacingAndGlyphs">=</text>
<text x="164.40" y="485.70" font-family="Liberation Serif" font-size="14.6" text-anchor="start" font-style="normal" font-weight="normal" fill="#262626" stroke="#262626" stroke-width="0.22" textLength="12.80" lengthAdjust="spacingAndGlyphs">18</text>
<line x1="131.00" y1="489.40" x2="137.10" y2="472.60" stroke="#262626" stroke-width="1.0" stroke-linecap="round"/>
<line x1="184.30" y1="481.90" x2="205.00" y2="481.90" stroke="#0000ff" stroke-width="2.9" stroke-linecap="butt"/>
<circle cx="194.40" cy="481.90" r="4.1" fill="none" stroke="#0000ff" stroke-width="2.7"/>
<text x="207.40" y="485.70" font-family="Liberation Serif" font-size="16" text-anchor="start" font-style="italic" font-weight="normal" fill="#262626" stroke="#262626" stroke-width="0.22" textLength="5.20" lengthAdjust="spacingAndGlyphs">ℓ</text>
<text x="213.20" y="488.10" font-family="Liberation Serif" font-size="10.2" text-anchor="start" font-style="normal" font-weight="normal" fill="#262626" stroke="#262626" stroke-width="0.22" textLength="16.20" lengthAdjust="spacingAndGlyphs">QM</text>
<text x="238.60" y="485.70" font-family="Liberation Serif" font-size="15" text-anchor="start" font-style="italic" font-weight="normal" fill="#262626" stroke="#262626" stroke-width="0.22" textLength="7.00" lengthAdjust="spacingAndGlyphs">a</text>
<text x="250.20" y="485.70" font-family="Liberation Serif" font-size="14.6" text-anchor="start" font-style="normal" font-weight="normal" fill="#262626" stroke="#262626" stroke-width="0.22" textLength="10.60" lengthAdjust="spacingAndGlyphs">=</text>
<text x="265.20" y="485.70" font-family="Liberation Serif" font-size="14.6" text-anchor="start" font-style="normal" font-weight="normal" fill="#262626" stroke="#262626" stroke-width="0.22" textLength="12.80" lengthAdjust="spacingAndGlyphs">12</text>
<line x1="231.80" y1="489.40" x2="237.90" y2="472.60" stroke="#262626" stroke-width="1.0" stroke-linecap="round"/>
<line x1="285.10" y1="481.90" x2="305.80" y2="481.90" stroke="#2ca82c" stroke-width="2.9" stroke-linecap="butt"/>
<circle cx="295.20" cy="481.90" r="4.1" fill="none" stroke="#2ca82c" stroke-width="2.7"/>
<text x="308.20" y="485.70" font-family="Liberation Serif" font-size="16" text-anchor="start" font-style="italic" font-weight="normal" fill="#262626" stroke="#262626" stroke-width="0.22" textLength="5.20" lengthAdjust="spacingAndGlyphs">ℓ</text>
<text x="314.00" y="488.10" font-family="Liberation Serif" font-size="10.2" text-anchor="start" font-style="normal" font-weight="normal" fill="#262626" stroke="#262626" stroke-width="0.22" textLength="16.20" lengthAdjust="spacingAndGlyphs">QM</text>
<text x="339.40" y="485.70" font-family="Liberation Serif" font-size="15" text-anchor="start" font-style="italic" font-weight="normal" fill="#262626" stroke="#262626" stroke-width="0.22" textLength="7.00" lengthAdjust="spacingAndGlyphs">a</text>
<text x="351.00" y="485.70" font-family="Liberation Serif" font-size="14.6" text-anchor="start" font-style="normal" font-weight="normal" fill="#262626" stroke="#262626" stroke-width="0.22" textLength="10.60" lengthAdjust="spacingAndGlyphs">=</text>
<text x="366.00" y="485.70" font-family="Liberation Serif" font-size="14.6" text-anchor="start" font-style="normal" font-weight="normal" fill="#262626" stroke="#262626" stroke-width="0.22">6</text>
<line x1="332.60" y1="489.40" x2="338.70" y2="472.60" stroke="#262626" stroke-width="1.0" stroke-linecap="round"/>
<text x="202.70" y="607.30" font-family="Liberation Serif" font-size="15" text-anchor="start" font-style="normal" font-weight="normal" fill="#262626" stroke="#262626" stroke-width="0.1" textLength="9.00" lengthAdjust="spacingAndGlyphs">Γ</text>
<text x="221.60" y="607.30" font-family="Liberation Serif" font-size="15" text-anchor="start" font-style="normal" font-weight="normal" fill="#262626" stroke="#262626" stroke-width="0.1" textLength="11.40" lengthAdjust="spacingAndGlyphs">Δ</text>
<line x1="213.80" y1="610.80" x2="220.20" y2="594.40" stroke="#262626" stroke-width="1.0" stroke-linecap="round"/>
<g transform="translate(12.4,533.4) rotate(-90)">
<text x="0.00" y="0.00" font-family="Liberation Serif" font-size="14.2" text-anchor="start" font-style="italic" font-weight="normal" fill="#262626" textLength="9.00" lengthAdjust="spacingAndGlyphs">ξ</text>
<text x="15.60" y="0.00" font-family="Liberation Serif" font-size="14.8" text-anchor="start" font-style="italic" font-weight="normal" fill="#262626" textLength="10.00" lengthAdjust="spacingAndGlyphs">a</text>
<line x1="9.40" y1="3.30" x2="15.20" y2="-11.60" stroke="#262626" stroke-width="1.0" stroke-linecap="round"/>
</g>
</svg>
</body></html>
